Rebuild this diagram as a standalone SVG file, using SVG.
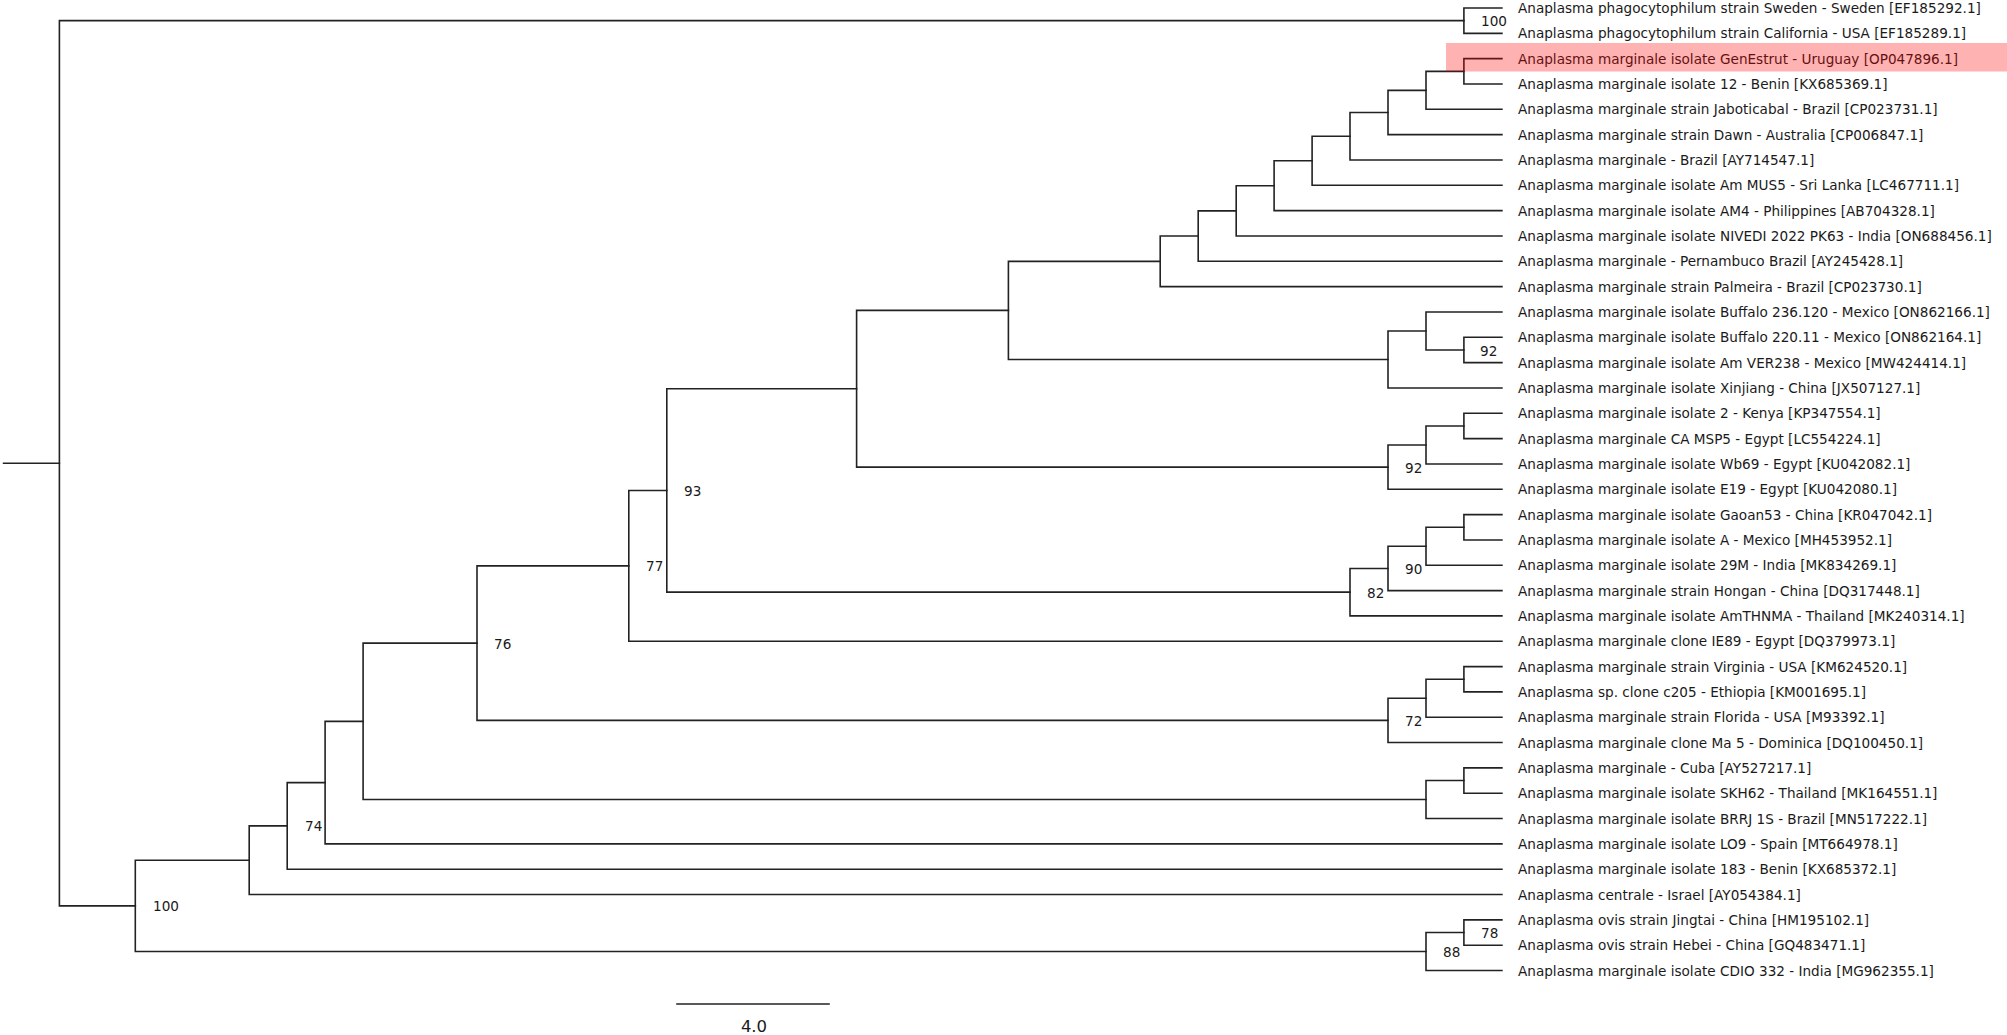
<svg xmlns="http://www.w3.org/2000/svg" width="2007" height="1035" viewBox="0 0 2007 1035">
<style>
.br{fill:none;stroke:#222;stroke-width:1.6;stroke-linecap:square}
.tl{font-family:"DejaVu Sans",Verdana,sans-serif;font-size:13.6px;fill:#1a1a1a}
.bs{font-family:"DejaVu Sans",Verdana,sans-serif;font-size:13.6px;fill:#1a1a1a}
.sc{font-family:"DejaVu Sans",Verdana,sans-serif;font-size:16.5px;fill:#1a1a1a;text-anchor:middle}
</style>
<rect width="2007" height="1035" fill="#fff"/>
<g id="connectors" class="br">
<path d="M3.6 463.28H59.4"/>
<path d="M1463.9 20.67H59.4V905.89H135.3"/>
<path d="M1501.9 8H1463.9V33.33H1501.9"/>
<path d="M249.2 860.24H135.3V951.54H1426"/>
<path d="M287.2 825.92H249.2V894.55H1501.9"/>
<path d="M325.1 782.62H287.2V869.22H1501.9"/>
<path d="M363.1 721.35H325.1V843.89H1501.9"/>
<path d="M477 643.13H363.1V799.56H1426"/>
<path d="M628.8 565.86H477V720.41H1388"/>
<path d="M666.8 490.47H628.8V641.25H1501.9"/>
<path d="M856.6 388.76H666.8V592.17H1350"/>
<path d="M1008.4 310.4H856.6V467.11H1388"/>
<path d="M1160.2 261.35H1008.4V359.46H1388"/>
<path d="M1198.2 236.07H1160.2V286.63H1501.9"/>
<path d="M1236.2 210.84H1198.2V261.3H1501.9"/>
<path d="M1274.1 185.71H1236.2V235.97H1501.9"/>
<path d="M1312.1 160.77H1274.1V210.64H1501.9"/>
<path d="M1350 136.24H1312.1V185.31H1501.9"/>
<path d="M1388 112.49H1350V159.98H1501.9"/>
<path d="M1426 90.33H1388V134.65H1501.9"/>
<path d="M1463.9 71.33H1426V109.32H1501.9"/>
<path d="M1501.9 58.66H1463.9V83.99H1501.9"/>
<path d="M1426 330.96H1388V387.95H1501.9"/>
<path d="M1501.9 311.96H1426V349.96H1463.9"/>
<path d="M1501.9 337.29H1463.9V362.62H1501.9"/>
<path d="M1426 444.94H1388V489.27H1501.9"/>
<path d="M1463.9 425.95H1426V463.94H1501.9"/>
<path d="M1501.9 413.28H1463.9V438.61H1501.9"/>
<path d="M1388 568.43H1350V615.92H1501.9"/>
<path d="M1426 546.26H1388V590.59H1501.9"/>
<path d="M1463.9 527.27H1426V565.26H1501.9"/>
<path d="M1501.9 514.6H1463.9V539.93H1501.9"/>
<path d="M1426 698.24H1388V742.57H1501.9"/>
<path d="M1463.9 679.25H1426V717.24H1501.9"/>
<path d="M1501.9 666.58H1463.9V691.91H1501.9"/>
<path d="M1463.9 780.57H1426V818.56H1501.9"/>
<path d="M1501.9 767.9H1463.9V793.23H1501.9"/>
<path d="M1463.9 932.55H1426V970.54H1501.9"/>
<path d="M1501.9 919.88H1463.9V945.21H1501.9"/>
<path d="M677 1004H829"/>
</g>
<g id="tips" class="tl">
<g id="tip1"><text x="1518" y="13">Anaplasma phagocytophilum strain Sweden - Sweden [EF185292.1]</text></g>
<g id="tip2"><text x="1518" y="38.3">Anaplasma phagocytophilum strain California - USA [EF185289.1]</text></g>
<g id="tip3"><text x="1518" y="63.7">Anaplasma marginale isolate GenEstrut - Uruguay [OP047896.1]</text></g>
<g id="tip4"><text x="1518" y="89">Anaplasma marginale isolate 12 - Benin [KX685369.1]</text></g>
<g id="tip5"><text x="1518" y="114.3">Anaplasma marginale strain Jaboticabal - Brazil [CP023731.1]</text></g>
<g id="tip6"><text x="1518" y="139.7">Anaplasma marginale strain Dawn - Australia [CP006847.1]</text></g>
<g id="tip7"><text x="1518" y="165">Anaplasma marginale - Brazil [AY714547.1]</text></g>
<g id="tip8"><text x="1518" y="190.3">Anaplasma marginale isolate Am MUS5 - Sri Lanka [LC467711.1]</text></g>
<g id="tip9"><text x="1518" y="215.6">Anaplasma marginale isolate AM4 - Philippines [AB704328.1]</text></g>
<g id="tip10"><text x="1518" y="241">Anaplasma marginale isolate NIVEDI 2022 PK63 - India [ON688456.1]</text></g>
<g id="tip11"><text x="1518" y="266.3">Anaplasma marginale - Pernambuco Brazil [AY245428.1]</text></g>
<g id="tip12"><text x="1518" y="291.6">Anaplasma marginale strain Palmeira - Brazil [CP023730.1]</text></g>
<g id="tip13"><text x="1518" y="317">Anaplasma marginale isolate Buffalo 236.120 - Mexico [ON862166.1]</text></g>
<g id="tip14"><text x="1518" y="342.3">Anaplasma marginale isolate Buffalo 220.11 - Mexico [ON862164.1]</text></g>
<g id="tip15"><text x="1518" y="367.6">Anaplasma marginale isolate Am VER238 - Mexico [MW424414.1]</text></g>
<g id="tip16"><text x="1518" y="393">Anaplasma marginale isolate Xinjiang - China [JX507127.1]</text></g>
<g id="tip17"><text x="1518" y="418.3">Anaplasma marginale isolate 2 - Kenya [KP347554.1]</text></g>
<g id="tip18"><text x="1518" y="443.6">Anaplasma marginale CA MSP5 - Egypt [LC554224.1]</text></g>
<g id="tip19"><text x="1518" y="468.9">Anaplasma marginale isolate Wb69 - Egypt [KU042082.1]</text></g>
<g id="tip20"><text x="1518" y="494.3">Anaplasma marginale isolate E19 - Egypt [KU042080.1]</text></g>
<g id="tip21"><text x="1518" y="519.6">Anaplasma marginale isolate Gaoan53 - China [KR047042.1]</text></g>
<g id="tip22"><text x="1518" y="544.9">Anaplasma marginale isolate A - Mexico [MH453952.1]</text></g>
<g id="tip23"><text x="1518" y="570.3">Anaplasma marginale isolate 29M - India [MK834269.1]</text></g>
<g id="tip24"><text x="1518" y="595.6">Anaplasma marginale strain Hongan - China [DQ317448.1]</text></g>
<g id="tip25"><text x="1518" y="620.9">Anaplasma marginale isolate AmTHNMA - Thailand [MK240314.1]</text></g>
<g id="tip26"><text x="1518" y="646.3">Anaplasma marginale clone IE89 - Egypt [DQ379973.1]</text></g>
<g id="tip27"><text x="1518" y="671.6">Anaplasma marginale strain Virginia - USA [KM624520.1]</text></g>
<g id="tip28"><text x="1518" y="696.9">Anaplasma sp. clone c205 - Ethiopia [KM001695.1]</text></g>
<g id="tip29"><text x="1518" y="722.2">Anaplasma marginale strain Florida - USA [M93392.1]</text></g>
<g id="tip30"><text x="1518" y="747.6">Anaplasma marginale clone Ma 5 - Dominica [DQ100450.1]</text></g>
<g id="tip31"><text x="1518" y="772.9">Anaplasma marginale - Cuba [AY527217.1]</text></g>
<g id="tip32"><text x="1518" y="798.2">Anaplasma marginale isolate SKH62 - Thailand [MK164551.1]</text></g>
<g id="tip33"><text x="1518" y="823.6">Anaplasma marginale isolate BRRJ 1S - Brazil [MN517222.1]</text></g>
<g id="tip34"><text x="1518" y="848.9">Anaplasma marginale isolate LO9 - Spain [MT664978.1]</text></g>
<g id="tip35"><text x="1518" y="874.2">Anaplasma marginale isolate 183 - Benin [KX685372.1]</text></g>
<g id="tip36"><text x="1518" y="899.6">Anaplasma centrale - Israel [AY054384.1]</text></g>
<g id="tip37"><text x="1518" y="924.9">Anaplasma ovis strain Jingtai - China [HM195102.1]</text></g>
<g id="tip38"><text x="1518" y="950.2">Anaplasma ovis strain Hebei - China [GQ483471.1]</text></g>
<g id="tip39"><text x="1518" y="975.5">Anaplasma marginale isolate CDIO 332 - India [MG962355.1]</text></g>
</g>
<g id="bootstrap" class="bs">
<g id="n-phago"><text x="1481" y="26.2">100</text></g>
<g id="n-buffalo"><text x="1480" y="355.5">92</text></g>
<g id="n-egypt"><text x="1405" y="472.6">92</text></g>
<g id="n-gaoan"><text x="1405" y="573.9">90</text></g>
<g id="n-hongan"><text x="1367" y="597.7">82</text></g>
<g id="n-93"><text x="684" y="496">93</text></g>
<g id="n-77"><text x="646" y="571.4">77</text></g>
<g id="n-virginia"><text x="1405" y="725.9">72</text></g>
<g id="n-76"><text x="494" y="648.6">76</text></g>
<g id="n-74"><text x="305" y="831.4">74</text></g>
<g id="n-100"><text x="153" y="911.4">100</text></g>
<g id="n-ovis"><text x="1481" y="938">78</text></g>
<g id="n-ovis2"><text x="1443" y="957">88</text></g>
</g>
<g id="scale"><text class="sc" x="754" y="1031.5">4.0</text></g>
<rect id="highlight" x="1446" y="43" width="561" height="28.5" fill="#f00" fill-opacity="0.3"/>
</svg>
